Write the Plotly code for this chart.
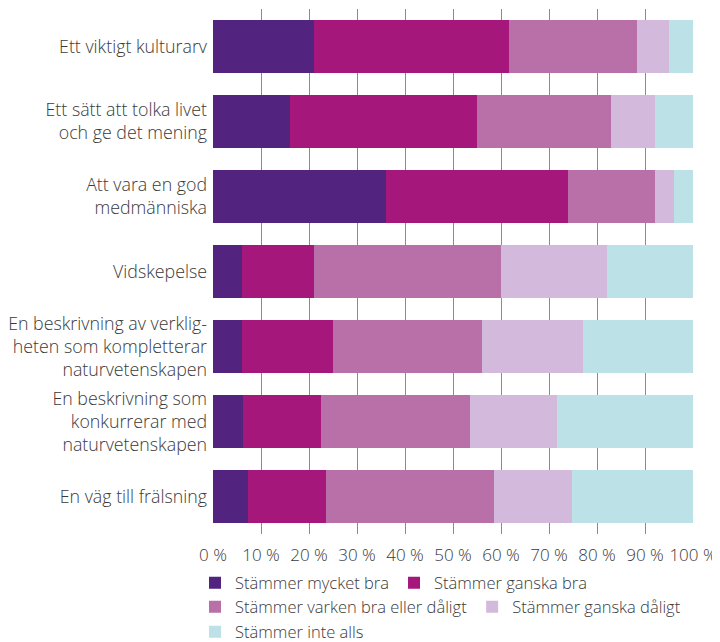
import plotly.graph_objects as go

categories = [
    "Ett viktigt kulturarv",
    "Ett sätt att tolka livet<br>och ge det mening",
    "Att vara en god<br>medmänniska",
    "Vidskepelse",
    "En beskrivning av verklig-<br>heten som kompletterar<br>naturvetenskapen",
    "En beskrivning som<br>konkurrerar med<br>naturvetenskapen",
    "En väg till frälsning",
]

series_names = [
    "Stämmer mycket bra",
    "Stämmer ganska bra",
    "Stämmer varken bra eller dåligt",
    "Stämmer ganska dåligt",
    "Stämmer inte alls",
]

mycket_bra = [21, 16, 36, 6, 6, 6.3, 7.3]
ganska_bra = [40.6, 39, 38, 15, 19, 16.2, 16.2]
varken = [26.7, 28, 18, 39, 31, 31.1, 35.1]
ganska_daligt = [6.8, 9, 4, 22, 21, 18.1, 16.2]
inte_alls = [4.9, 8, 4, 18, 23, 28.3, 25.2]

tick_vals = [0, 10, 20, 30, 40, 50, 60, 70, 80, 90, 100]
tick_text = [f"{v} %" for v in tick_vals]

colors = ["#522480", "#A6177C", "#B96FA8", "#D3B9DB", "#BCE1E7"]
values = [mycket_bra, ganska_bra, varken, ganska_daligt, inte_alls]
legend_ids = ["legend", "legend", "legend2", "legend2", "legend3"]

FONT = "Open Sans"
TEXT = "#3a3a3a"
WEIGHT = 300

W, H = 720, 642
L, R, T, B = 205, 35, 1, 116
plot_w = W - L - R
plot_h = H - T - B


def px_x(screen_x):
    return (screen_x - 8 - L) / plot_w


def px_y(screen_y):
    return (H - B - (screen_y - 8)) / plot_h


fig = go.Figure()
for name, vals, col, lg in zip(series_names, values, colors, legend_ids):
    fig.add_trace(go.Bar(
        y=categories, x=vals, name=name, orientation="h",
        marker=dict(color=col, line=dict(width=0)),
        legend=lg,
        hoverinfo="x+name",
    ))

leg_common = dict(
    orientation="h", xanchor="left", yanchor="middle",
    font=dict(family=FONT, size=16.5, color=TEXT, weight=WEIGHT),
    traceorder="normal", itemclick=False, bgcolor="rgba(0,0,0,0)",
)

fig.update_layout(
    width=W, height=H,
    barmode="stack", bargap=0.29,
    plot_bgcolor="white", paper_bgcolor="white",
    margin=dict(l=L, r=R, t=T, b=B),
    font=dict(family=FONT, size=17, color=TEXT, weight=WEIGHT),
    legend=dict(x=px_x(195), y=px_y(583), **leg_common),
    legend2=dict(x=px_x(195), y=px_y(607), **leg_common),
    legend3=dict(x=px_x(195), y=px_y(632), **leg_common),
    xaxis=dict(
        range=[0, 100], tickvals=tick_vals, ticktext=tick_text,
        showgrid=True, gridcolor="#8c8c8c", gridwidth=1,
        zeroline=False, showline=False, ticks="",
        ticklabelstandoff=9,
        tickfont=dict(family=FONT, size=17, color=TEXT, weight=WEIGHT),
    ),
    yaxis=dict(
        autorange="reversed", showgrid=False, zeroline=False, ticks="",
        ticklabelstandoff=5,
        tickfont=dict(family=FONT, size=17.8, color=TEXT, weight=WEIGHT),
    ),
)

fig.write_html("out.html")
